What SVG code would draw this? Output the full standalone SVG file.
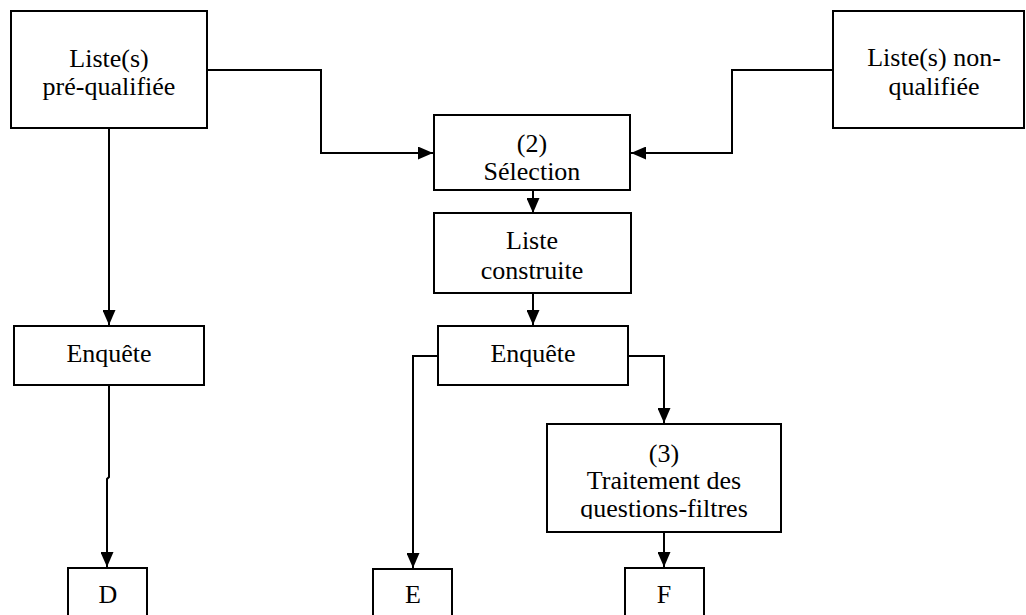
<svg xmlns="http://www.w3.org/2000/svg" width="1026" height="615" viewBox="0 0 1026 615">
<style>
.box{fill:#fff;stroke:#000;stroke-width:2}
.t{font-family:"Liberation Serif","Times New Roman",serif;font-size:26px;fill:#000;text-anchor:middle}
.c{fill:none;stroke:#000;stroke-width:2}
</style>
<defs>
<marker id="ah" markerUnits="userSpaceOnUse" markerWidth="15" markerHeight="13" refX="15" refY="6.5" orient="auto">
<path d="M0,0 L15,6.5 L0,13 z" fill="#000"/>
</marker>
<clipPath id="clip3"><rect x="548" y="426" width="231" height="93"/></clipPath>
</defs>
<rect width="1026" height="615" fill="#fff"/>
<g id="connectors">
<path class="c" d="M207,70 H321 V153 H433" marker-end="url(#ah)"/>
<path class="c" d="M833,70 H732 V153 H631" marker-end="url(#ah)"/>
<path class="c" d="M533,190 V213" marker-end="url(#ah)"/>
<path class="c" d="M533,293 V325" marker-end="url(#ah)"/>
<path class="c" d="M109,128 V325" marker-end="url(#ah)"/>
<path class="c" d="M109,385 V477 L107,479 V567" marker-end="url(#ah)"/>
<path class="c" d="M438,356 H413 V568" marker-end="url(#ah)"/>
<path class="c" d="M628,356 H664 V423" marker-end="url(#ah)"/>
<path class="c" d="M664,532 V567" marker-end="url(#ah)"/>
</g>
<g id="n-prequal">
<rect class="box" x="11" y="11" width="196" height="117"/>
<text class="t" x="109" y="67">Liste(s)</text>
<text class="t" x="109" y="95">pré-qualifiée</text>
</g>
<g id="n-nonqual">
<rect class="box" x="833" y="11" width="191" height="117"/>
<text class="t" x="934" y="66">Liste(s) non-</text>
<text class="t" x="934" y="95">qualifiée</text>
</g>
<g id="n-selection">
<rect class="box" x="434" y="115" width="196" height="75"/>
<text class="t" x="532" y="152">(2)</text>
<text class="t" x="532" y="180">Sélection</text>
</g>
<g id="n-construite">
<rect class="box" x="434" y="213" width="197" height="80"/>
<text class="t" x="532" y="249">Liste</text>
<text class="t" x="532" y="279">construite</text>
</g>
<g id="n-enquete1">
<rect class="box" x="14" y="326" width="190" height="59"/>
<text class="t" x="109" y="362">Enquête</text>
</g>
<g id="n-enquete2">
<rect class="box" x="438" y="326" width="190" height="59"/>
<text class="t" x="533" y="362">Enquête</text>
</g>
<g id="n-traitement">
<rect class="box" x="547" y="424" width="234" height="108"/>
<g clip-path="url(#clip3)">
<text class="t" x="664" y="462">(3)</text>
<text class="t" x="664" y="489">Traitement des</text>
<text class="t" x="664" y="517">questions-filtres</text>
</g>
</g>
<g id="n-D">
<rect class="box" x="68" y="568" width="79" height="60"/>
<text class="t" x="108" y="603">D</text>
</g>
<g id="n-E">
<rect class="box" x="373" y="569" width="79" height="60"/>
<text class="t" x="413" y="603">E</text>
</g>
<g id="n-F">
<rect class="box" x="625" y="568" width="79" height="60"/>
<text class="t" x="664" y="603">F</text>
</g>
</svg>
